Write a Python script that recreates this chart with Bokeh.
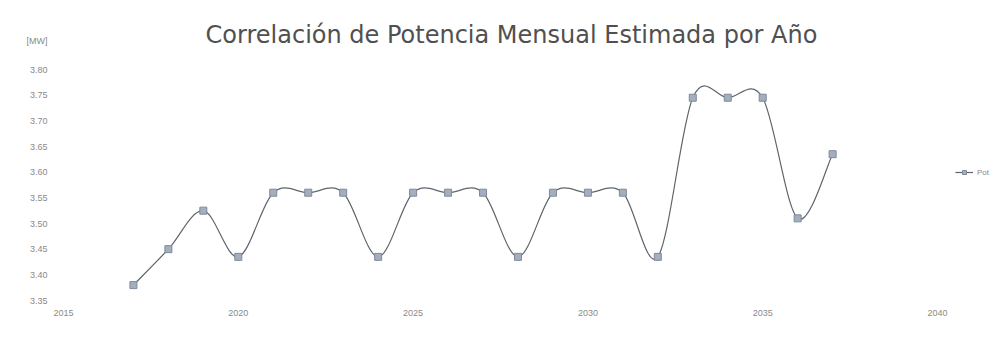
import numpy as np
from bokeh.plotting import figure
from bokeh.models import (Range1d, FixedTicker, Label, Legend, LegendItem,
                          NumeralTickFormatter)
from bokeh.embed import file_html
from bokeh.resources import INLINE

# ---- data ----
years = [2017, 2018, 2019, 2020, 2021, 2022, 2023, 2024, 2025, 2026, 2027,
         2028, 2029, 2030, 2031, 2032, 2033, 2034, 2035, 2036, 2037]
potencia = [3.38, 3.45, 3.525, 3.435, 3.56, 3.56, 3.56, 3.435, 3.56, 3.56, 3.56,
            3.435, 3.56, 3.56, 3.56, 3.435, 3.745, 3.745, 3.745, 3.51, 3.635]
series_name = "Pot"
title_text = "Correlación de Potencia Mensual Estimada por Año"
unit_text = "[MW]"
unit_pos = 3.855
x_ticks = [2015, 2020, 2025, 2030, 2035, 2040]
y_ticks = [3.35, 3.40, 3.45, 3.50, 3.55, 3.60, 3.65, 3.70, 3.75, 3.80]

W, H = 992, 336
left, right, top, bottom = 63, 0, 0, 36
frame_w = W - left - right
frame_h = H - top - bottom
px_per_year = 34.96
px_per_unit = 231 / 0.45

p = figure(width=W, height=H, output_backend="svg", toolbar_location=None,
           x_range=Range1d(2015, 2015 + frame_w / px_per_year),
           y_range=Range1d(3.35, 3.35 + frame_h / px_per_unit),
           min_border_left=left, min_border_right=right,
           min_border_top=top, min_border_bottom=bottom)
p.outline_line_color = None
p.grid.visible = False
p.background_fill_color = "white"
p.border_fill_color = "white"

for ax in (p.xaxis[0], p.yaxis[0]):
    ax.axis_line_color = None
    ax.major_tick_line_color = None
    ax.minor_tick_line_color = None
    ax.major_label_text_color = "#8a8a8a"
    ax.major_label_text_font = "Liberation Sans"
    ax.major_label_text_font_size = "9px"

p.xaxis.ticker = FixedTicker(ticks=x_ticks)
p.xaxis.major_label_standoff = 3
p.yaxis.ticker = FixedTicker(ticks=y_ticks + [unit_pos])
p.yaxis.formatter = NumeralTickFormatter(format="0.00")
p.yaxis.major_label_overrides = {unit_pos: unit_text}
p.yaxis.major_label_standoff = 10

# ---- smoothed line (Catmull-Rom -> cubic Bezier, like Excel smooth lines) ----
x = np.array(years, dtype=float)
y = np.array(potencia, dtype=float)
xp = np.concatenate([[x[0]], x, [x[-1]]])
yp = np.concatenate([[y[0]], y, [y[-1]]])
n = len(x)
x0, y0 = x[:-1], y[:-1]
x1, y1 = x[1:], y[1:]
cx0 = x0 + (xp[2:n + 1] - xp[0:n - 1]) / 6.0
cy0 = y0 + (yp[2:n + 1] - yp[0:n - 1]) / 6.0
cx1 = x1 - (xp[3:n + 2] - xp[1:n]) / 6.0
cy1 = y1 - (yp[3:n + 2] - yp[1:n]) / 6.0
p.bezier(x0=x0, y0=y0, x1=x1, y1=y1, cx0=cx0, cy0=cy0, cx1=cx1, cy1=cy1,
         line_color="#60646b", line_width=1.2)

marker_r = p.scatter(years, potencia, marker="square", size=7,
                     fill_color="#a3afbf", line_color="#7f8a99", line_width=1)
legend_line = p.line(x=[np.nan], y=[np.nan], line_color="#60646b", line_width=1.2)

legend = Legend(items=[LegendItem(label=series_name, renderers=[legend_line, marker_r])],
                location=(955 - left, 300 - 172 - 5), padding=0, margin=0, spacing=0,
                glyph_width=18, glyph_height=10, label_standoff=4,
                label_text_font_size="8px", label_text_color="#8a8a8a",
                label_text_font="Liberation Sans",
                border_line_color=None, background_fill_alpha=0)
p.add_layout(legend)

# ---- title ----
p.add_layout(Label(x=511 - left, y=300 - 34, x_units="screen", y_units="screen",
                   text=title_text, text_align="center", text_baseline="middle",
                   text_font="DejaVu Sans", text_font_size="24px",
                   text_color="#505050"))

open("out.html", "w").write(file_html(p, INLINE))
